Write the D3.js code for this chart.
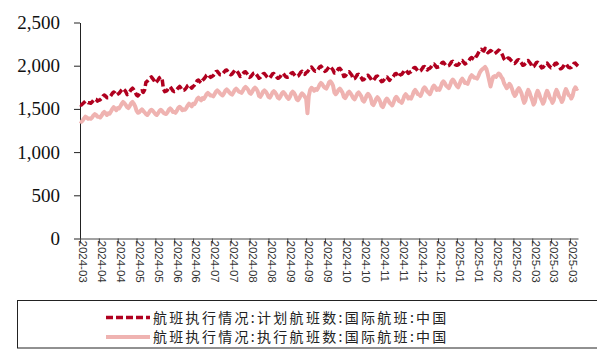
<!DOCTYPE html>
<html>
<head>
<meta charset="utf-8">
<script src="https://cdn.jsdelivr.net/npm/d3@7"></script>
<style>
  html, body { margin: 0; padding: 0; background: #fff; }
  svg { display: block; }
</style>
</head>
<body>
<svg id="chart" width="597" height="354"></svg>
<script>
// Daily international flights, China: scheduled vs. operated (one row per week, Sun..Sat)
const startDate = "2024-03-31";

const planned = [
  1550,1545,1560,1575,1590,1585,1570,
  1570,1565,1580,1600,1615,1610,1590,
  1600,1605,1620,1645,1660,1650,1630,
  1630,1635,1655,1680,1695,1685,1660,
  1670,1680,1700,1720,1735,1720,1700,
  1665,1675,1700,1725,1740,1720,1695,
  1660,1650,1670,1700,1710,1690,1720,
  1810,1820,1840,1860,1870,1850,1830,
  1800,1815,1835,1860,1870,1850,1730,
  1700,1705,1720,1745,1755,1735,1710,
  1700,1705,1725,1745,1760,1740,1715,
  1715,1725,1745,1770,1780,1760,1740,
  1760,1775,1800,1825,1835,1815,1800,
  1830,1845,1865,1890,1900,1880,1865,
  1875,1885,1905,1930,1935,1915,1895,
  1895,1905,1925,1945,1950,1930,1910,
  1895,1905,1925,1945,1950,1930,1905,
  1875,1885,1905,1925,1930,1910,1890,
  1865,1875,1895,1915,1920,1900,1880,
  1855,1865,1885,1905,1910,1890,1870,
  1855,1860,1880,1905,1910,1890,1870,
  1855,1860,1880,1905,1910,1890,1870,
  1865,1870,1890,1915,1920,1900,1880,
  1875,1880,1900,1925,1935,1915,1900,
  1920,1930,1950,1975,1985,1965,1945,
  1935,1940,1960,1985,1995,1975,1955,
  1935,1945,1965,1985,1990,1970,1950,
  1915,1920,1940,1965,1970,1950,1925,
  1875,1880,1900,1925,1930,1910,1890,
  1845,1850,1870,1895,1900,1880,1860,
  1835,1840,1860,1885,1890,1870,1850,
  1825,1830,1850,1875,1880,1860,1840,
  1815,1820,1840,1865,1870,1850,1830,
  1855,1860,1880,1905,1910,1890,1870,
  1895,1900,1920,1945,1950,1930,1910,
  1925,1930,1950,1975,1980,1960,1940,
  1935,1940,1960,1985,1990,1970,1950,
  1965,1970,1990,2015,2020,2000,1980,
  1985,1990,2010,2035,2040,2020,2000,
  1995,2000,2020,2045,2050,2030,2010,
  2005,2010,2030,2055,2060,2040,2020,
  2030,2040,2060,2085,2095,2080,2070,
  2100,2120,2150,2175,2190,2180,2170,
  2200,2170,2150,2160,2175,2165,2145,
  2140,2150,2165,2180,2170,2150,2120,
  2080,2060,2075,2090,2085,2065,2050,
  2030,2025,2045,2065,2070,2050,2030,
  2005,2010,2030,2055,2060,2040,2020,
  1985,1990,2010,2035,2040,2020,2000,
  1975,1980,2000,2025,2030,2010,1990,
  1975,1980,2000,2025,2030,2010,1990,
  1965,1970,1990,2015,2020,2000,1980,
  1975,1980,2000,2025,2030,2010,1995
];

const executed = [
  1360,1350,1365,1390,1410,1400,1385,
  1390,1385,1400,1425,1440,1430,1410,
  1410,1400,1420,1450,1465,1450,1430,
  1450,1445,1470,1500,1520,1505,1485,
  1510,1505,1530,1560,1580,1565,1545,
  1520,1510,1535,1565,1580,1560,1530,
  1480,1455,1460,1480,1495,1475,1460,
  1440,1430,1450,1475,1490,1480,1460,
  1440,1430,1450,1475,1490,1475,1455,
  1445,1440,1460,1490,1505,1490,1465,
  1465,1455,1480,1510,1525,1510,1485,
  1495,1490,1510,1540,1560,1545,1530,
  1560,1555,1580,1615,1630,1615,1600,
  1625,1615,1640,1670,1685,1670,1655,
  1655,1645,1670,1700,1715,1700,1680,
  1665,1655,1680,1710,1725,1710,1690,
  1675,1665,1690,1720,1735,1720,1700,
  1695,1685,1710,1740,1755,1740,1720,
  1685,1675,1700,1730,1745,1730,1705,
  1650,1640,1665,1700,1715,1700,1675,
  1640,1630,1655,1690,1705,1690,1665,
  1630,1620,1645,1680,1695,1680,1655,
  1630,1615,1640,1680,1700,1685,1655,
  1610,1600,1625,1660,1680,1665,1640,
  1620,1450,1650,1720,1745,1730,1710,
  1730,1720,1745,1780,1800,1785,1760,
  1745,1735,1765,1805,1820,1800,1770,
  1690,1670,1690,1720,1735,1715,1690,
  1640,1625,1650,1685,1700,1680,1655,
  1625,1610,1640,1675,1690,1670,1645,
  1600,1585,1615,1655,1675,1655,1625,
  1560,1545,1575,1615,1635,1615,1585,
  1535,1520,1555,1600,1620,1600,1570,
  1555,1540,1575,1620,1640,1620,1590,
  1585,1570,1605,1650,1670,1650,1620,
  1635,1620,1655,1700,1720,1700,1670,
  1665,1650,1685,1730,1750,1730,1700,
  1685,1670,1705,1750,1770,1750,1720,
  1735,1720,1755,1800,1820,1800,1770,
  1755,1740,1775,1820,1840,1820,1790,
  1765,1750,1785,1830,1850,1830,1800,
  1800,1790,1830,1870,1890,1875,1860,
  1860,1850,1880,1920,1945,1960,1970,
  1985,1960,1900,1830,1760,1820,1870,
  1880,1870,1890,1910,1900,1870,1850,
  1800,1770,1740,1760,1790,1770,1730,
  1680,1650,1670,1720,1740,1715,1680,
  1620,1570,1600,1680,1720,1690,1640,
  1600,1550,1580,1670,1710,1680,1630,
  1600,1560,1590,1670,1710,1680,1630,
  1610,1570,1600,1680,1720,1690,1640,
  1620,1580,1610,1690,1730,1700,1660,
  1650,1620,1650,1720,1750,1730,1740
];

const yTicks = [0, 500, 1000, 1500, 2000, 2500];
const tickStepDays = 14;
const tickCount = 27;
const seriesNames = [
  "航班执行情况:计划航班数:国际航班:中国",
  "航班执行情况:执行航班数:国际航班:中国"
];
const colors = { planned: "#b0001f", executed: "#efb3b1" };

const svg = d3.select("#chart");
const parse = d3.timeParse("%Y-%m-%d");
const t0 = parse(startDate);
const dates = planned.map((_, i) => d3.timeDay.offset(t0, i));

const margin = { left: 80, right: 19, top: 22.5, bottom: 115.5 };
const W = 597, H = 354;

const x = d3.scaleTime()
  .domain([dates[0], dates[dates.length - 1]])
  .range([margin.left, W - margin.right]);
const y = d3.scaleLinear()
  .domain([0, 2500])
  .range([H - margin.bottom, margin.top]);

// y axis
const yAxis = svg.append("g")
  .attr("transform", `translate(${margin.left},0)`)
  .call(d3.axisLeft(y).tickValues(yTicks).tickSize(6).tickPadding(14)
    .tickFormat(d3.format(",")).tickSizeOuter(0));
yAxis.select(".domain").attr("stroke", "#222");
yAxis.selectAll(".tick line").attr("stroke", "#222");
yAxis.selectAll("text")
  .attr("font-family", "'Liberation Serif', 'Times New Roman', serif")
  .attr("font-size", 19).attr("fill", "#111");

// x axis, one label every two weeks
const xTickVals = d3.range(tickCount).map(k => d3.timeDay.offset(t0, k * tickStepDays));
const xAxis = svg.append("g")
  .attr("transform", `translate(0,${y(0)})`)
  .call(d3.axisBottom(x).tickValues(xTickVals).tickSize(5).tickSizeOuter(0)
    .tickFormat(d3.timeFormat("%Y-%m")));
xAxis.select(".domain").attr("stroke", "#444");
xAxis.selectAll(".tick line").attr("stroke", "#444");
xAxis.selectAll("text")
  .attr("font-family", "'Liberation Sans', Arial, sans-serif")
  .attr("font-size", 11.5).attr("fill", "#333")
  .attr("text-anchor", "start")
  .attr("transform", "rotate(90)")
  .attr("x", 2).attr("y", 0).attr("dy", "0.1em");

const line = d3.line()
  .x((d, i) => x(dates[i]))
  .y(d => y(d))
  .curve(d3.curveLinear);

svg.append("path")
  .datum(executed)
  .attr("fill", "none")
  .attr("stroke", colors.executed)
  .attr("stroke-width", 4)
  .attr("stroke-linejoin", "round")
  .attr("d", line);

svg.append("path")
  .datum(planned)
  .attr("fill", "none")
  .attr("stroke", colors.planned)
  .attr("stroke-width", 3.5)
  .attr("stroke-dasharray", "7,3")
  .attr("stroke-linejoin", "round")
  .attr("d", line);

// legend
const lg = svg.append("g");
lg.append("rect")
  .attr("x", 17.5).attr("y", 300.5)
  .attr("width", 600).attr("height", 47.5)
  .attr("fill", "none").attr("stroke", "#222").attr("stroke-width", 1);

const legendItems = [
  { name: seriesNames[0], color: colors.planned, dash: "7,3", width: 3.5, yy: 317.5 },
  { name: seriesNames[1], color: colors.executed, dash: null, width: 4, yy: 337 }
];
legendItems.forEach(it => {
  lg.append("line")
    .attr("x1", 106).attr("x2", 150)
    .attr("y1", it.yy).attr("y2", it.yy)
    .attr("stroke", it.color).attr("stroke-width", it.width)
    .attr("stroke-dasharray", it.dash);
  lg.append("text")
    .attr("x", 153).attr("y", it.yy)
    .attr("dy", "0.36em")
    .attr("font-family", "'Noto Sans CJK SC', sans-serif")
    .attr("font-size", 14).attr("letter-spacing", 2.3).attr("fill", "#222")
    .text(it.name);
});
</script>
</body>
</html>
